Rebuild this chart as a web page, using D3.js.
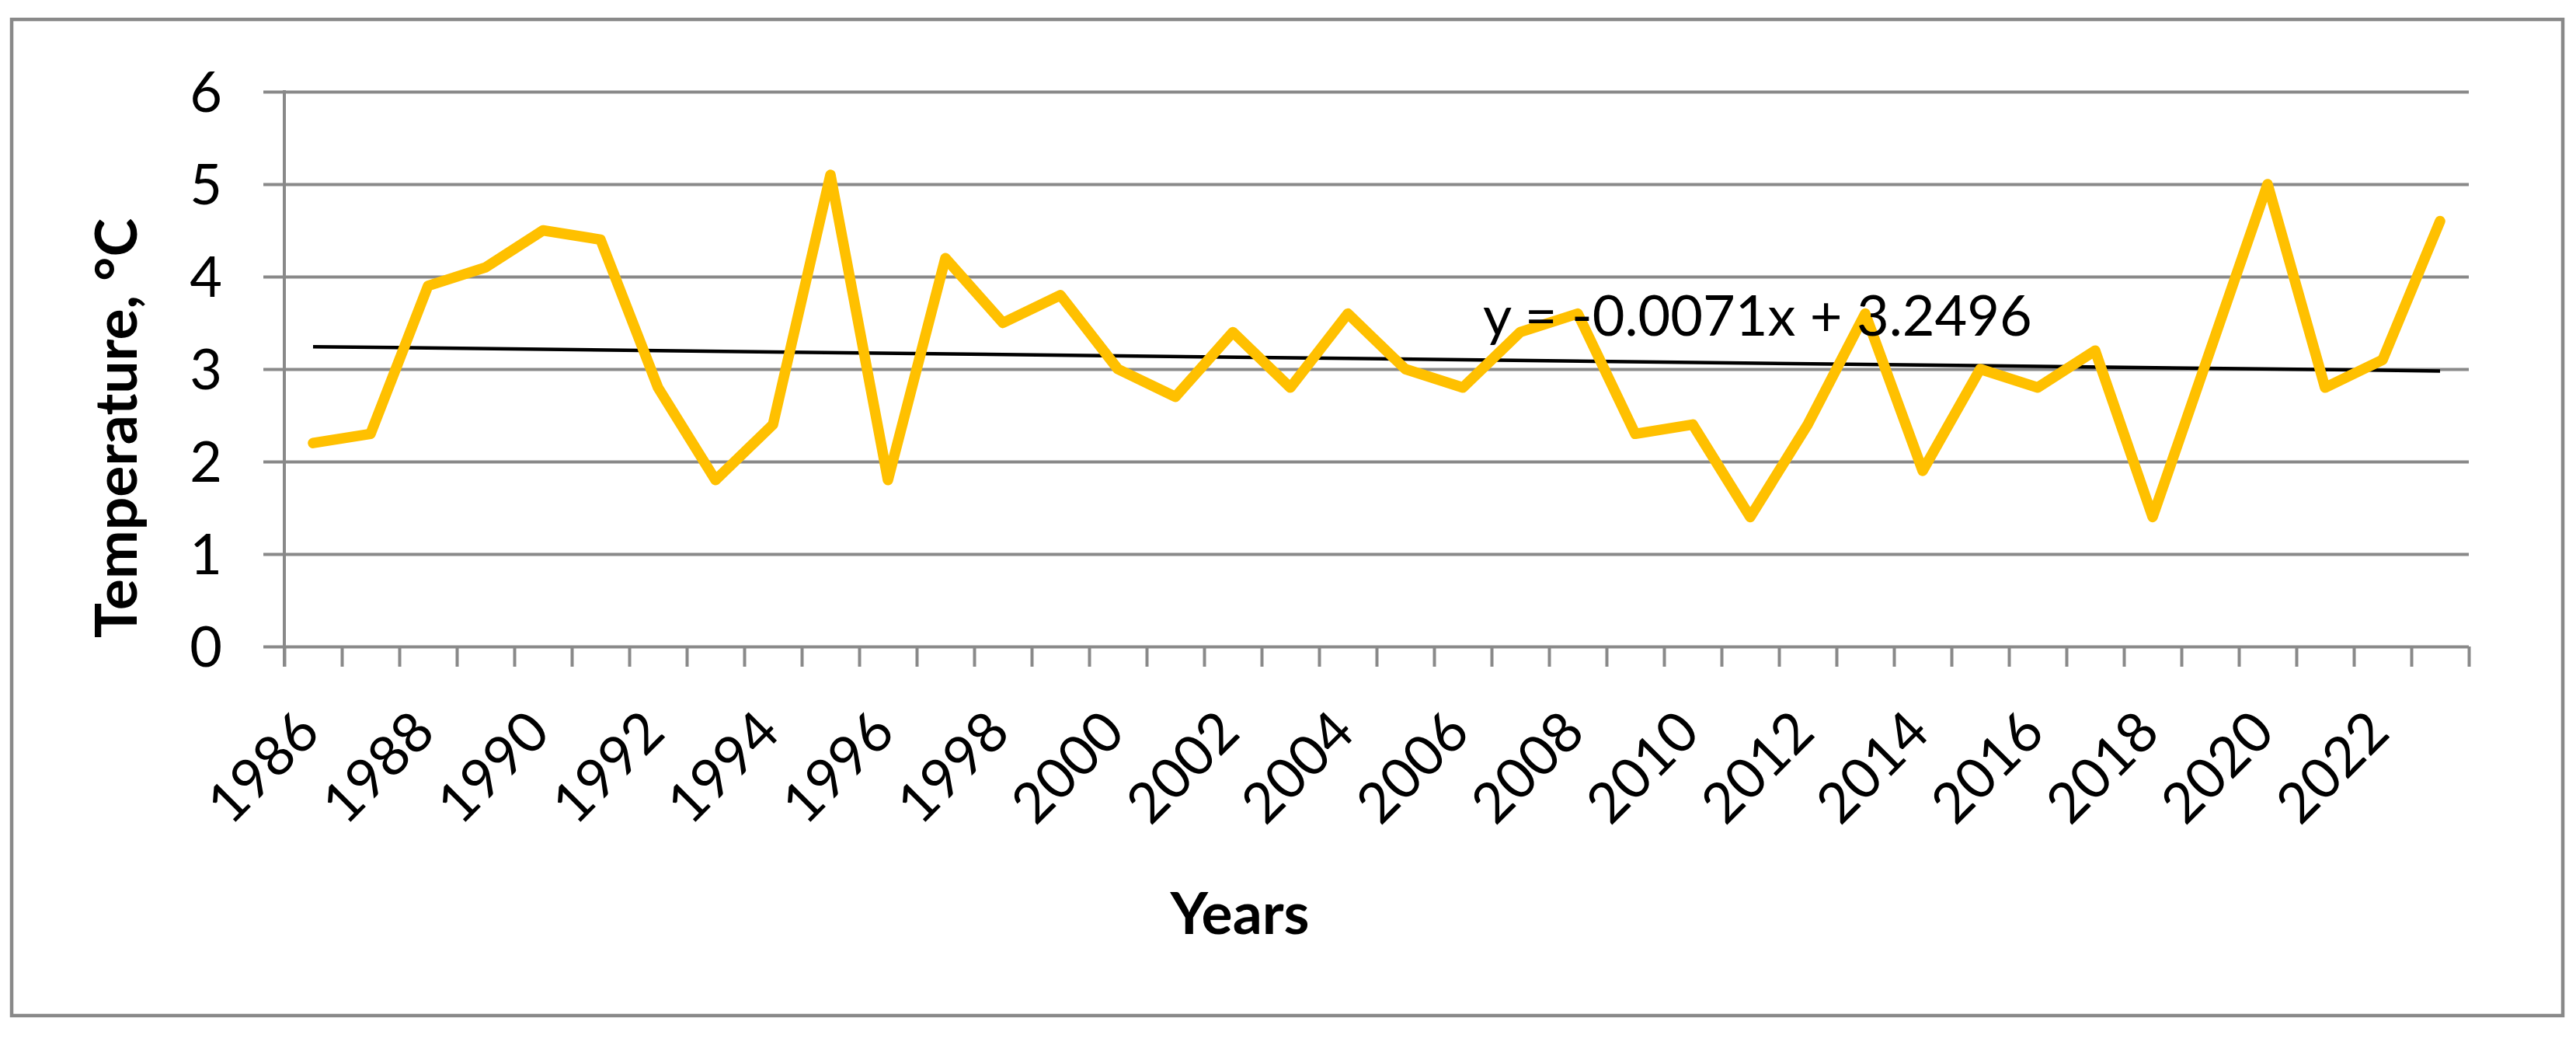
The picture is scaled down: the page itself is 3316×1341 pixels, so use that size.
<!DOCTYPE html>
<html>
<head>
<meta charset="utf-8">
<script src="https://cdn.jsdelivr.net/npm/d3@7"></script>
<style>
  html, body { margin: 0; padding: 0; background: #ffffff; }
  svg { display: block; }
  text { font-family: Lato, "Open Sans", sans-serif; fill: #000; }
</style>
</head>
<body>
<svg id="chart" width="3316" height="1341"></svg>
<script>
// ---------------- data ----------------
const years = ["1986","1987","1988","1989","1990","1991","1992","1993","1994","1995",
               "1996","1997","1998","1999","2000","2001","2002","2003","2004","2005",
               "2006","2007","2008","2009","2010","2011","2012","2013","2014","2015",
               "2016","2017","2018","2019","2020","2021","2022","2023"];
const temperature = [2.2, 2.3, 3.9, 4.1, 4.5, 4.4, 2.8, 1.8, 2.4, 5.1,
                     1.8, 4.2, 3.5, 3.8, 3.0, 2.7, 3.4, 2.8, 3.6, 3.0,
                     2.8, 3.4, 3.6, 2.3, 2.4, 1.4, 2.4, 3.6, 1.9, 3.0,
                     2.8, 3.2, 1.4, 3.2, 5.0, 2.8, 3.1, 4.6];
const yTicks = [0, 1, 2, 3, 4, 5, 6];
const xTickLabels = ["1986","1988","1990","1992","1994","1996","1998","2000","2002","2004",
                     "2006","2008","2010","2012","2014","2016","2018","2020","2022"];
const trendSlope = -0.0071;
const trendIntercept = 3.2496;
const trendLabel = "y = -0.0071x + 3.2496";
const yTitle = "Temperature, °C";
const xTitle = "Years";

// ---------------- layout ----------------
const W = 3316, H = 1341;
const plot = { left: 366, right: 3178, top: 118, bottom: 832 };
const gridColor = "#898989";
const fontSize = 72;
const titleSize = 75;

const svg = d3.select("#chart");
svg.append("rect").attr("width", W).attr("height", H).attr("fill", "#fff");

// outer chart border
svg.append("rect")
  .attr("x", 15).attr("y", 25)
  .attr("width", 3299 - 15).attr("height", 1307 - 25)
  .attr("fill", "none").attr("stroke", gridColor).attr("stroke-width", 4.5);

// scales
const x = d3.scaleBand().domain(years).range([plot.left, plot.right]).padding(0);
const xIdx = d3.scaleLinear().domain([0, years.length]).range([plot.left, plot.right]);
const y = d3.scaleLinear().domain([0, 6]).range([plot.bottom, plot.top]);
const cx = d => x(d) + x.bandwidth() / 2;

// y axis with gridlines
const tickOut = 27;
const yAxis = d3.axisLeft(y)
  .tickValues(yTicks)
  .tickSize(-(plot.right - plot.left + tickOut))
  .tickPadding(53)
  .tickFormat(d3.format("d"));
const gy = svg.append("g")
  .attr("transform", `translate(${plot.left - tickOut},0)`)
  .call(yAxis);
gy.select(".domain").remove();
gy.selectAll(".tick line").attr("stroke", gridColor).attr("stroke-width", 4);
gy.selectAll(".tick text")
  .attr("font-size", fontSize)
  .attr("font-family", "Lato, sans-serif")
  .attr("fill", "#000")
  .attr("dy", "0.36em");

// y axis line
svg.append("line")
  .attr("x1", plot.left).attr("x2", plot.left)
  .attr("y1", y(6) - 2).attr("y2", plot.bottom + 26)
  .attr("stroke", gridColor).attr("stroke-width", 4);

// x axis ticks at category boundaries
const xAxis = d3.axisBottom(xIdx)
  .tickValues(d3.range(years.length + 1))
  .tickSize(26)
  .tickSizeOuter(0)
  .tickFormat("");
const gx = svg.append("g")
  .attr("transform", `translate(0,${plot.bottom})`)
  .call(xAxis);
gx.select(".domain").remove();
gx.selectAll(".tick line").attr("stroke", gridColor).attr("stroke-width", 4);

// x tick labels (every other year), rotated
svg.append("g").selectAll("text")
  .data(xTickLabels)
  .join("text")
  .attr("transform", d => `translate(${cx(d) + 12},${plot.bottom + 114}) rotate(-45)`)
  .attr("text-anchor", "end")
  .attr("font-size", fontSize)
  .text(d => d);

// trend line
const trendData = [0, years.length - 1].map(i => ({ i, v: trendSlope * (i + 1) + trendIntercept }));
svg.append("line")
  .attr("x1", cx(years[trendData[0].i])).attr("y1", y(trendData[0].v))
  .attr("x2", cx(years[trendData[1].i])).attr("y2", y(trendData[1].v))
  .attr("stroke", "#000").attr("stroke-width", 4.5);

// data line
const line = d3.line()
  .x((d, i) => cx(years[i]))
  .y(d => y(d));
svg.append("path")
  .datum(temperature)
  .attr("d", line)
  .attr("fill", "none")
  .attr("stroke", "#FFC000")
  .attr("stroke-width", 13.5)
  .attr("stroke-linejoin", "round")
  .attr("stroke-linecap", "round");

// trend equation label
svg.append("text")
  .attr("x", 1909).attr("y", 432)
  .attr("font-size", fontSize)
  .text(trendLabel);

// axis titles
svg.append("text")
  .attr("transform", `translate(176,551) rotate(-90)`)
  .attr("text-anchor", "middle")
  .attr("font-size", titleSize)
  .attr("font-weight", "bold")
  .text(yTitle);

svg.append("text")
  .attr("x", 1596).attr("y", 1202)
  .attr("text-anchor", "middle")
  .attr("font-size", titleSize)
  .attr("font-weight", "bold")
  .text(xTitle);
</script>
</body>
</html>
